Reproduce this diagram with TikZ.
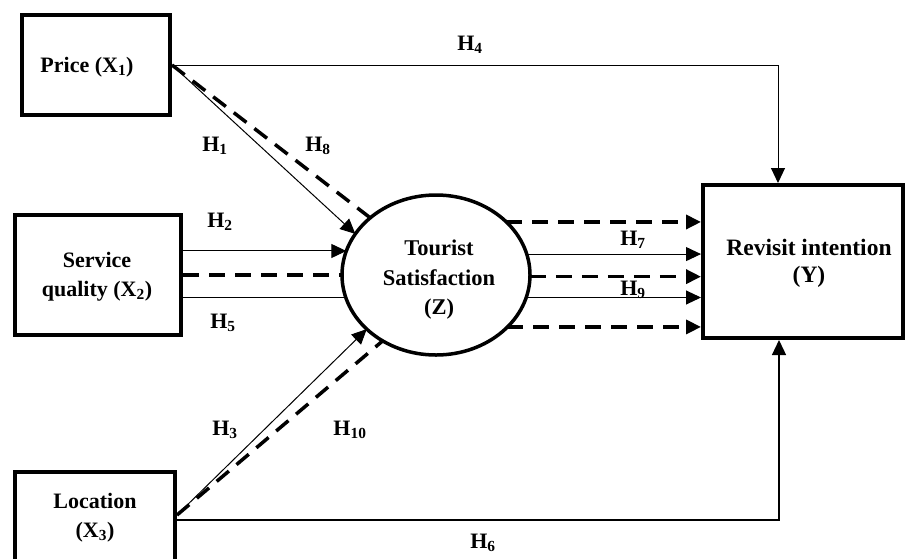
\documentclass[tikz,border=0pt]{standalone}
\usepackage{fontspec}
\setmainfont{Liberation Serif}
\usetikzlibrary{arrows.meta,shapes.geometric}
\newcommand{\lowidx}[1]{\textsubscript{#1}}
\begin{document}
\begin{tikzpicture}[x=1pt,y=-1pt,
  every node/.style={font=\fontsize{22}{29}\selectfont\bfseries},
  box/.style={draw, line width=4pt, inner sep=0pt, outer sep=2pt},
  txt/.style={align=center, inner sep=0pt},
  tiparrow/.style={-{Triangle[length=15pt,width=14pt]}},
  thinline/.style={line width=1pt},
  dshline/.style={line width=3.5pt, dash pattern=on 16pt off 10pt}]
\useasboundingbox (0,0) rectangle (909,558);

% constructs
\node[box, minimum width=148pt, minimum height=100pt] (price) at (96,65) {};
\node[box, minimum width=166pt, minimum height=120pt] (sq) at (98,275) {};
\node[box, minimum width=160pt, minimum height=96pt] (loc) at (95,520) {};
\node[box, minimum width=200pt, minimum height=153pt] (Y) at (803,261.5) {};
\node[ellipse, draw, line width=3.5pt, fill=white, inner sep=0pt, outer sep=0pt,
      minimum width=188pt, minimum height=160pt] (Z) at (436,275) {};

% construct names
\node[txt] (tprice) at (87,67) {Price (X\lowidx{1})};
\node[txt] (tsq) at (97,277) {Service\\quality (X\lowidx{2})};
\node[txt] (tloc) at (95,518) {Location\\(X\lowidx{3})};
\node[txt, font=\fontsize{22.5}{29.5}\selectfont\bfseries] (tz) at (439,280) {Tourist\\Satisfaction\\(Z)};
\node[txt, font=\fontsize{23.5}{27}\selectfont\bfseries] (ty) at (809,263) {Revisit intention\\(Y)};

% direct paths to revisit intention
\draw[thinline, tiparrow] (price.east) -| ([xshift=-25pt]Y.north);
\draw[line width=1.3pt, tiparrow] (loc.east) -| ([xshift=-24pt]Y.south);

% paths into tourist satisfaction
\draw[thinline, tiparrow] (price.east) -- (Z.153.15);
\draw[dshline] (price.east) -- (Z.139.7);
\draw[thinline, tiparrow] (sq.east |- Z.165.7) -- (Z.165.7);
\draw[dshline] (sq.east |- Z.180) -- (Z.180);
\draw[thinline] (sq.east |- Z.194.3) -- (Z.194.3);
\draw[thinline, tiparrow] ([yshift=5pt]loc.east) -- (Z.218);
\draw[dshline] ([yshift=5pt]loc.east) -- (Z.231.5);

% paths out of tourist satisfaction
\draw[dshline, tiparrow] (Z.37.9) -- (Z.37.9 -| Y.west);
\draw[thinline, tiparrow] (Z.13.7) -- (Z.13.7 -| Y.west);
\draw[dshline, tiparrow] (Z.-1.8) -- (Z.-1.8 -| Y.west);
\draw[thinline, tiparrow] (Z.-14.3) -- (Z.-14.3 -| Y.west);
\draw[dshline, tiparrow] (Z.-36.1) -- (Z.-36.1 -| Y.west);

% hypothesis labels
\node[txt] (h1) at (215,146) {H\lowidx{1}};
\node[txt] (h2) at (220,222) {H\lowidx{2}};
\node[txt] (h3) at (225,430) {H\lowidx{3}};
\node[txt] (h4) at (470,45) {H\lowidx{4}};
\node[txt] (h5) at (223,323) {H\lowidx{5}};
\node[txt] (h6) at (483,543) {H\lowidx{6}};
\node[txt] (h7) at (633,240) {H\lowidx{7}};
\node[txt] (h8) at (318,146) {H\lowidx{8}};
\node[txt] (h9) at (633,290) {H\lowidx{9}};
\node[txt] (h10) at (350,430) {H\lowidx{10}};
\end{tikzpicture}
\end{document}
